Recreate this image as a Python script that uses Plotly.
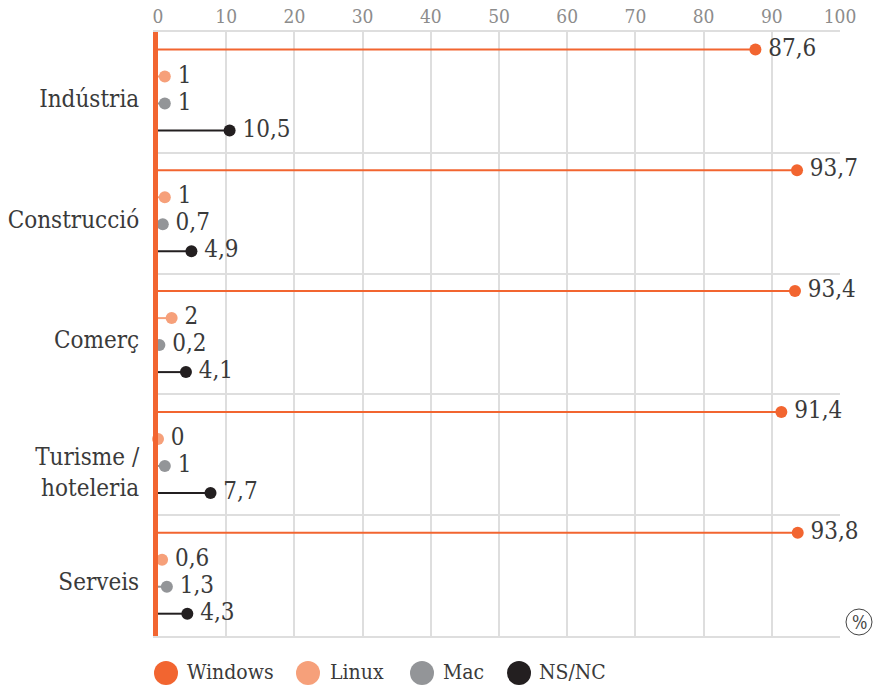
import plotly.graph_objects as go

# ---------------- data ----------------
categories = ["Indústria", "Construcció", "Comerç", "Turisme /<br>hoteleria", "Serveis"]
series_names = ["Windows", "Linux", "Mac", "NS/NC"]
windows = [87.6, 93.7, 93.4, 91.4, 93.8]
linux = [1, 1, 2, 0, 0.6]
mac = [1, 0.7, 0.2, 1, 1.3]
nsnc = [10.5, 4.9, 4.1, 7.7, 4.3]
x_ticks = [0, 10, 20, 30, 40, 50, 60, 70, 80, 90, 100]

# ---------------- style ----------------
colors = ["#F26530", "#F6A07A", "#939598", "#231F20"]
FONT = "DejaVu Serif Condensed, DejaVu Serif, serif"
TEXT = "#3a3a3a"
GRID = "#dedede"

W, H = 873, 687
ML, MR, MT, MB = 158, 33, 32, 51
PW, PH = W - ML - MR, H - MT - MB

FIRST = 17.5 / 120.8
STEP = 27 / 120.8

def fmt(v):
    return "\u2009" + ("%g" % v).replace(".", ",")

fig = go.Figure()
all_series = [windows, linux, mac, nsnc]
for s, (name, vals, col) in enumerate(zip(series_names, all_series, colors)):
    ys = [g + FIRST + s * STEP for g in range(len(categories))]
    lx, ly = [], []
    for v, y in zip(vals, ys):
        lx += [0, v, None]
        ly += [y, y, None]
    fig.add_trace(go.Scatter(x=lx, y=ly, mode="lines", line=dict(color=col, width=2),
                             showlegend=False, hoverinfo="skip", cliponaxis=False))
    fig.add_trace(go.Scatter(x=vals, y=ys, mode="markers+text", name=name,
                             marker=dict(color=col, size=12),
                             text=[fmt(v) for v in vals], textposition="middle right",
                             textfont=dict(family=FONT, size=24, color=TEXT),
                             showlegend=False, cliponaxis=False))

label_pos = [g + 0.55 for g in range(len(categories))]
label_pos[3] = 3 + 0.64

fig.update_xaxes(
    range=[0, 100], side="top", tickvals=x_ticks, ticktext=[str(t) for t in x_ticks],
    tickfont=dict(family=FONT, size=19, color="#8c8c8c"),
    showgrid=True, gridcolor=GRID, gridwidth=1.5, zeroline=False,
    showline=True, mirror=True, linecolor=GRID, linewidth=1.5, ticks="",
    ticklabelstandoff=0, automargin=False,
)
fig.update_yaxes(
    range=[len(categories), 0], tickvals=label_pos, ticktext=categories,
    tickfont=dict(family=FONT, size=24, color=TEXT),
    showgrid=False, zeroline=False, ticks="", ticklabelstandoff=9,
    showline=True, linecolor=colors[0], linewidth=5, automargin=False,
    minor=dict(tickvals=list(range(len(categories) + 1)), showgrid=True,
               gridcolor=GRID, gridwidth=1.5),
)

shapes = []
annotations = []
def px_to_paper(px, py):
    return (px - ML) / PW, (H - MB - py) / PH

# legend
legend_items = [(166, 185), (308, 328), (422, 441), (519, 537)]
for (cx, tx), name, col in zip(legend_items, series_names, colors):
    xp, yp = px_to_paper(cx, 673)
    shapes.append(dict(type="circle", xref="paper", yref="paper", xsizemode="pixel",
                       ysizemode="pixel", xanchor=xp, yanchor=yp, x0=-12, x1=12, y0=-12, y1=12,
                       fillcolor=col, line=dict(width=0)))
    txp, typ = px_to_paper(tx, 672)
    annotations.append(dict(x=txp, y=typ, xref="paper", yref="paper", text=name,
                            showarrow=False, xanchor="left", yanchor="middle",
                            font=dict(family=FONT, size=21, color=TEXT)))

# percent sign
xp, yp = px_to_paper(859, 622)
shapes.append(dict(type="circle", xref="paper", yref="paper", xsizemode="pixel",
                   ysizemode="pixel", xanchor=xp, yanchor=yp, x0=-13, x1=13, y0=-13, y1=13,
                   fillcolor="white", line=dict(width=1, color="#444")))
annotations.append(dict(x=xp, y=yp, xref="paper", yref="paper", text="%", showarrow=False,
                        xanchor="center", yanchor="middle",
                        font=dict(family=FONT, size=18, color="#444")))

fig.update_layout(
    width=W, height=H, margin=dict(l=ML, r=MR, t=MT, b=MB, autoexpand=False),
    paper_bgcolor="white", plot_bgcolor="white",
    shapes=shapes, annotations=annotations, showlegend=False,
    font=dict(family=FONT),
)
fig.write_html("out.html", config={"displayModeBar": False},
               post_script="document.body.style.margin='0';document.body.style.overflow='hidden';")
